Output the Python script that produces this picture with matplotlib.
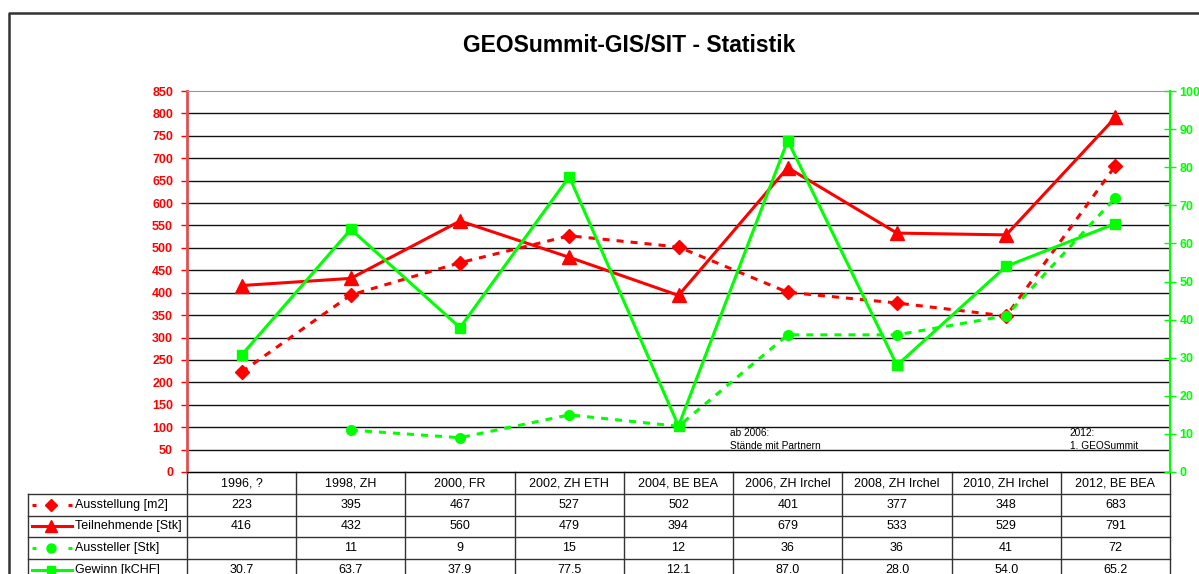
import numpy as np
import matplotlib.pyplot as plt

plt.rcParams['font.family'] = ['Liberation Sans', 'DejaVu Sans']

categories = ['1996, ?', '1998, ZH', '2000, FR', '2002, ZH ETH', '2004, BE BEA',
              '2006, ZH Irchel', '2008, ZH Irchel', '2010, ZH Irchel', '2012, BE BEA']
ausstellung = [223, 395, 467, 527, 502, 401, 377, 348, 683]
teilnehmende = [416, 432, 560, 479, 394, 679, 533, 529, 791]
aussteller = [None, 11, 9, 15, 12, 36, 36, 41, 72]
gewinn = [30.7, 63.7, 37.9, 77.5, 12.1, 87.0, 28.0, 54.0, 65.2]

series_names = ['Ausstellung [m2]', 'Teilnehmende [Stk]', 'Aussteller [Stk]', 'Gewinn [kCHF]']
series_text = [
    [str(v) for v in ausstellung],
    [str(v) for v in teilnehmende],
    ['' if v is None else str(v) for v in aussteller],
    ['%.1f' % v for v in gewinn],
]

RED = '#ff0000'
GREEN = '#00ff00'
W, H = 1199, 574

fig = plt.figure(figsize=(W / 100, H / 100), dpi=100)

# background axes in pixel coords (y from bottom) for border + table
bg = fig.add_axes([0, 0, 1, 1], zorder=-1)
bg.set_xlim(0, W)
bg.set_ylim(0, H)
bg.axis('off')
bg.plot([9, 9, W], [0, H - 13, H - 13], color='#333333', lw=1.8)

ax = fig.add_axes([187 / W, 102 / H, (1170 - 187) / W, 381 / H])
ax.set_facecolor('none')
x = np.arange(len(categories))
ax.set_xlim(-0.5, len(categories) - 0.5)
ax.set_ylim(0, 850)
ax.set_yticks(np.arange(0, 851, 50))
ax.set_xticks([])
for v in np.arange(50, 801, 50):
    ax.axhline(v, color='#111111', lw=1.0, zorder=1)

ax.spines['left'].set_color('#e05050')
ax.spines['left'].set_linewidth(2)
ax.spines['top'].set_color('#999999')
ax.spines['right'].set_visible(False)
ax.spines['bottom'].set_color('black')
ax.tick_params(axis='y', colors=RED, length=4, width=1, labelsize=9, pad=6)
for t in ax.get_yticklabels():
    t.set_fontweight('bold')

ax2 = ax.twinx()
ax2.set_ylim(0, 100)
ax2.set_yticks(np.arange(0, 101, 10))
for s in ['left', 'top', 'bottom']:
    ax2.spines[s].set_visible(False)
ax2.spines['right'].set_color(GREEN)
ax2.spines['right'].set_linewidth(1.5)
ax2.tick_params(axis='y', colors=GREEN, direction='inout', length=8, width=1,
                labelsize=9, pad=3)
for t in ax2.get_yticklabels():
    t.set_fontweight('bold')

ax.plot(x, ausstellung, color=RED, lw=2.2, linestyle=(0, (2.3, 2.3)),
        marker='D', ms=7, zorder=3)
ax.plot(x, teilnehmende, color=RED, lw=2.2, marker='^', ms=10, zorder=3)
aus = np.array([np.nan if v is None else v for v in aussteller], dtype=float)
ax2.plot(x, aus, color=GREEN, lw=2.2, linestyle=(0, (2.3, 2.3)),
         marker='o', ms=7, zorder=3)
ax2.plot(x, gewinn, color=GREEN, lw=2.2, marker='s', ms=6.5, zorder=3)

ax2.text(4.47, 88 / 850 * 100, 'ab 2006:', fontsize=7.3, va='center')
ax2.text(4.47, 58.5 / 850 * 100, 'Stände mit Partnern', fontsize=7.3, va='center')
ax2.text(7.58, 88 / 850 * 100, '2012:', fontsize=7.3, va='center')
ax2.text(7.58, 58.5 / 850 * 100, '1. GEOSummit', fontsize=7.3, va='center')

fig.suptitle('GEOSummit-GIS/SIT - Statistik', x=629 / W, y=1 - 45 / H,
             va='center', fontsize=16.5, fontweight='bold')

# data table
fig.canvas.draw()
edges = [ax.transData.transform((i - 0.5, 0))[0] for i in range(len(categories) + 1)]
y_top = ax.transData.transform((0, 0))[1]
head_h = 22
row_h = 21.6
leg_left = 28
lc = '#333333'

y_head_bot = y_top - head_h
rows_y = [y_head_bot - i * row_h for i in range(len(series_names) + 1)]

bg.plot([edges[0], edges[-1]], [y_top, y_top], color='black', lw=1)
for yy in rows_y:
    bg.plot([leg_left, edges[-1]], [yy, yy], color=lc, lw=1)
for e in edges:
    bg.plot([e, e], [0, y_top], color=lc, lw=1)
bg.plot([leg_left, leg_left], [0, y_head_bot], color=lc, lw=1)

for i, c in enumerate(categories):
    cx = (edges[i] + edges[i + 1]) / 2
    bg.text(cx, y_top - head_h / 2, c, ha='center', va='center', fontsize=9)
    for r in range(len(series_names)):
        cy = rows_y[r] - row_h / 2
        bg.text(cx, cy, series_text[r][i], ha='center', va='center', fontsize=9)

key_style = [(RED, 'D', 6, True), (RED, '^', 8, False),
             (GREEN, 'o', 6.5, True), (GREEN, 's', 5.5, False)]
for r, name in enumerate(series_names):
    cy = rows_y[r] - row_h / 2
    color, mk, ms, dashed = key_style[r]
    if dashed:
        bg.plot([32, 36], [cy, cy], color=color, lw=2.2, solid_capstyle='butt')
        bg.plot([68, 72], [cy, cy], color=color, lw=2.2, solid_capstyle='butt')
    else:
        bg.plot([32, 72], [cy, cy], color=color, lw=2.2)
    bg.plot([51], [cy], marker=mk, ms=ms, color=color)
    bg.text(75, cy, name, ha='left', va='center', fontsize=9)

fig.savefig('out.png', dpi=100)
